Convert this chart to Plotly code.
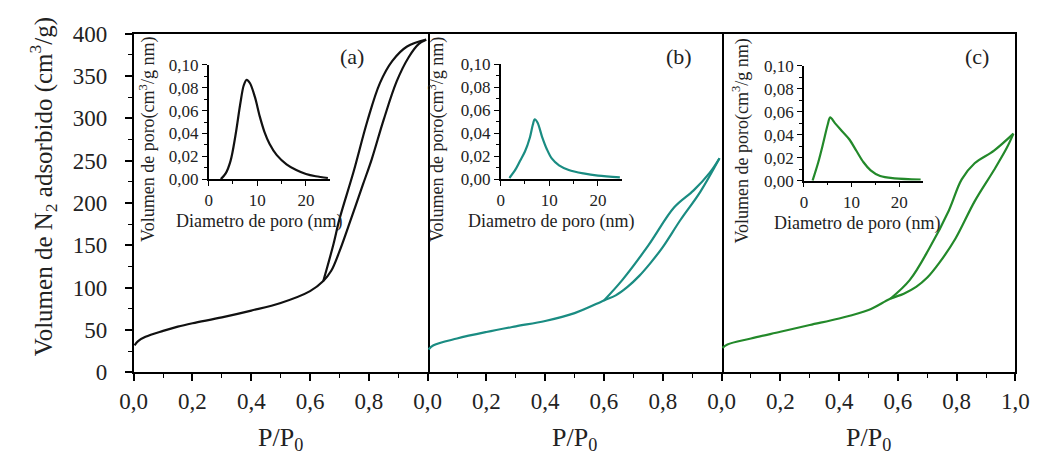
import plotly.graph_objects as go

W, H = 1047, 462
FONT = "Liberation Serif"

# ---------------- data ----------------
# Panel (a) isotherm (adsorption = lower branch, desorption = upper branch)
a_ads_x = [0.003, 0.015, 0.04, 0.1, 0.15, 0.2, 0.3, 0.4, 0.5, 0.6, 0.645, 0.672, 0.70, 0.74, 0.78,
           0.81, 0.85, 0.895, 0.935, 0.97, 0.995]
a_ads_y = [32, 37, 42, 49, 54, 58, 65, 73, 82, 96, 108, 120, 143, 182, 222,
           252, 298, 344, 372, 388, 393]
a_des_x = [0.645, 0.655, 0.68, 0.70, 0.748, 0.795, 0.838, 0.88, 0.93, 0.995]
a_des_y = [108, 120, 152, 181, 237, 297, 342, 368, 385, 393]

# Panel (b) isotherm
b_ads_x = [0.003, 0.02, 0.1, 0.2, 0.3, 0.4, 0.5, 0.6, 0.64, 0.68, 0.72, 0.76, 0.80, 0.86, 0.927, 0.993]
b_ads_y = [27, 32, 40, 47.7, 54.4, 60.7, 70, 85, 91, 101, 114, 130, 148, 180, 213, 253]
b_des_x = [0.6, 0.662, 0.751, 0.839, 0.905, 0.96, 0.993]
b_des_y = [85, 109, 150, 195, 215, 236, 253]

# Panel (c) isotherm
c_ads_x = [0.003, 0.02, 0.1, 0.2, 0.3, 0.4, 0.5, 0.574, 0.62, 0.662, 0.70, 0.74, 0.795, 0.861, 0.927, 0.971, 0.993]
c_ads_y = [29, 33, 40, 48, 56, 63.7, 73.7, 87, 93, 101, 112, 129, 157.5, 202, 239, 265.5, 282]
c_des_x = [0.574, 0.64, 0.706, 0.773, 0.817, 0.861, 0.927, 0.993]
c_des_y = [87, 109, 146, 191, 228, 247, 262, 282]

# Insets: pore size distributions (diameter nm, volume cm3/g nm)
ia_x = [2.5, 3.5, 4.5, 5.5, 6.5, 7.2, 7.8, 8.5, 9.5, 10.5, 11.5, 12.5, 14, 16, 18, 20, 22, 24.5]
ia_y = [0, 0.005, 0.016, 0.038, 0.066, 0.082, 0.087, 0.084, 0.072, 0.055, 0.041, 0.031, 0.021,
        0.013, 0.008, 0.0045, 0.0025, 0.001]
ib_x = [1.8, 3, 4, 5, 6, 6.6, 7.0, 7.6, 8.5, 9.5, 10.5, 12, 14, 17, 20, 24.5]
ib_y = [0.001, 0.008, 0.016, 0.024, 0.036, 0.047, 0.052, 0.049, 0.037, 0.026, 0.018, 0.012,
        0.008, 0.005, 0.003, 0.0015]
ic_x = [1.8, 3, 4, 5, 5.5, 6.5, 8, 9.5, 11, 12.5, 14, 16, 19, 24.5]
ic_y = [0, 0.016, 0.032, 0.049, 0.055, 0.050, 0.043, 0.036, 0.026, 0.016, 0.009, 0.004, 0.002, 0.001]

main_xticks_ab = [0, 0.2, 0.4, 0.6, 0.8]
main_xticks_c = [0, 0.2, 0.4, 0.6, 0.8, 1.0]
main_xminor = [0.1, 0.3, 0.5, 0.7, 0.9]
main_yticks = [0, 50, 100, 150, 200, 250, 300, 350, 400]
main_yminor = [25, 75, 125, 175, 225, 275, 325, 375]
inset_xticks = [0, 10, 20]
inset_xminor = [5, 15]
inset_yticks = [0, 0.02, 0.04, 0.06, 0.08, 0.10]
inset_yminor = [0.01, 0.03, 0.05, 0.07, 0.09]

panel_labels = ["(a)", "(b)", "(c)"]
colors = ["#111111", "#1a8c82", "#23892a"]

# ---------------- geometry (pixels) ----------------
def px_x(p):
    return p / W

def px_y(p):
    return 1 - p / H

main_x_px = [(123, 425), (425, 727), (727, 1029)]
main_y_px = (381, 23)
inset_x_px = [(200, 325), (500, 625), (811.7, 934)]
inset_y_px = [(176.7, 56), (176.7, 55), (178.3, 56.7)]

fig = go.Figure()

series = [(a_ads_x, a_ads_y, a_des_x, a_des_y, ia_x, ia_y),
          (b_ads_x, b_ads_y, b_des_x, b_des_y, ib_x, ib_y),
          (c_ads_x, c_ads_y, c_des_x, c_des_y, ic_x, ic_y)]

for i, (ax_, ay_, dx_, dy_, ix_, iy_) in enumerate(series):
    xm = "x" if i == 0 else f"x{i+1}"
    ym = "y" if i == 0 else f"y{i+1}"
    xi, yi = f"x{i+4}", f"y{i+4}"
    line = dict(color=colors[i], width=2.2, shape="spline", smoothing=1.0)
    fig.add_trace(go.Scatter(x=ax_, y=ay_, mode="lines", line=line, xaxis=xm, yaxis=ym, showlegend=False))
    fig.add_trace(go.Scatter(x=dx_, y=dy_, mode="lines", line=line, xaxis=xm, yaxis=ym, showlegend=False))
    fig.add_trace(go.Scatter(x=ix_, y=iy_, mode="lines",
                             line=dict(color=colors[i], width=2.2, shape="spline", smoothing=0.9),
                             xaxis=xi, yaxis=yi, showlegend=False, cliponaxis=False))

tickfont_main = dict(family=FONT, size=23, color="#222")
tickfont_in = dict(family=FONT, size=17, color="#222")

layout = dict(
    width=W, height=H, margin=dict(l=0, r=0, t=0, b=0),
    paper_bgcolor="white", plot_bgcolor="rgba(0,0,0,0)",
    separators=",.", showlegend=False,
)

for i in range(3):
    xs = "xaxis" if i == 0 else f"xaxis{i+1}"
    ys = "yaxis" if i == 0 else f"yaxis{i+1}"
    xa = "y" if i == 0 else f"y{i+1}"
    ya = "x" if i == 0 else f"x{i+1}"
    x0, x1 = main_x_px[i]
    layout[xs] = dict(
        domain=[px_x(x0), px_x(x1)], anchor=xa, range=[0, 1],
        showline=True, linecolor="black", linewidth=1.8, mirror=True,
        ticks="outside", ticklen=7, tickwidth=1.6, tickcolor="black",
        tickvals=main_xticks_c if i == 2 else main_xticks_ab, tickformat=".1f",
        minor=dict(tickvals=main_xminor, ticks="outside", ticklen=4, tickwidth=1.4, tickcolor="black"),
        showgrid=False, zeroline=False, tickfont=tickfont_main, fixedrange=True,
    )
    ycfg = dict(
        domain=[px_y(main_y_px[0]), px_y(main_y_px[1])], anchor=ya, range=[0, 400],
        showline=True, linecolor="black", linewidth=1.8,
        showgrid=False, zeroline=False, fixedrange=True,
    )
    if i == 0:
        ycfg.update(mirror=True, ticks="outside", ticklen=7, tickwidth=1.6, tickcolor="black",
                    tickvals=main_yticks, tickfont=tickfont_main, ticklabelstandoff=13,
                    minor=dict(tickvals=main_yminor, ticks="outside", ticklen=4, tickwidth=1.4, tickcolor="black"))
    else:
        ycfg.update(side="right", showticklabels=False, ticks="")
    layout[ys] = ycfg

    # insets
    ix0, ix1 = inset_x_px[i]
    iy0, iy1 = inset_y_px[i]
    layout[f"xaxis{i+4}"] = dict(
        domain=[px_x(ix0), px_x(ix1)], anchor=f"y{i+4}", range=[0, 25],
        showline=True, linecolor="black", linewidth=1.6,
        ticks="outside", ticklen=5, tickwidth=1.4, tickcolor="black",
        tickvals=inset_xticks, minor=dict(tickvals=inset_xminor, ticks="outside", ticklen=3, tickwidth=1.2, tickcolor="black"),
        showgrid=False, zeroline=False, tickfont=tickfont_in, fixedrange=True,
    )
    layout[f"yaxis{i+4}"] = dict(
        domain=[px_y(iy0), px_y(iy1)], anchor=f"x{i+4}", range=[0, 0.10],
        showline=True, linecolor="black", linewidth=1.6,
        ticks="outside", ticklen=5, tickwidth=1.4, tickcolor="black",
        tickvals=inset_yticks, tickformat=".2f",
        minor=dict(tickvals=inset_yminor, ticks="outside", ticklen=3, tickwidth=1.2, tickcolor="black"),
        showgrid=False, zeroline=False, tickfont=tickfont_in, fixedrange=True,
    )

fig.update_layout(**layout)

anns = []
# main y title
anns.append(dict(text="Volumen de N<sub>2</sub> adsorbido (cm<sup>3</sup>/g)", x=px_x(30), y=px_y(185),
                 xref="paper", yref="paper", textangle=-90, showarrow=False,
                 font=dict(family=FONT, size=25, color="#222"), xanchor="center", yanchor="middle"))
label_pos = [(347.5, 47), (683, 47), (989, 47)]
inset_xt = [(252, 221), (552, 221), (866.5, 224)]
inset_yt = [(137, 135), (434, 135), (747, 137)]
for i in range(3):
    x0, x1 = main_x_px[i]
    anns.append(dict(text="P/P<sub>0</sub>", x=px_x((x0 + x1) / 2), y=px_y(451), xref="paper", yref="paper",
                     showarrow=False, font=dict(family=FONT, size=26, color="#222"),
                     xanchor="center", yanchor="middle"))
    anns.append(dict(text=panel_labels[i], x=px_x(label_pos[i][0]), y=px_y(label_pos[i][1]),
                     xref="paper", yref="paper", showarrow=False,
                     font=dict(family=FONT, size=22, color="#222"), xanchor="center", yanchor="middle"))
    anns.append(dict(text="Diametro de poro (nm)", x=px_x(inset_xt[i][0]), y=px_y(inset_xt[i][1]),
                     xref="paper", yref="paper", showarrow=False,
                     font=dict(family=FONT, size=18, color="#222"), xanchor="center", yanchor="middle"))
    anns.append(dict(text="Volumen de poro(cm<sup>3</sup>/g nm)", x=px_x(inset_yt[i][0]), y=px_y(inset_yt[i][1]),
                     xref="paper", yref="paper", showarrow=False, textangle=-90,
                     font=dict(family=FONT, size=18, color="#222"), xanchor="center", yanchor="middle"))
fig.update_layout(annotations=anns)

fig.write_html("out.html")
